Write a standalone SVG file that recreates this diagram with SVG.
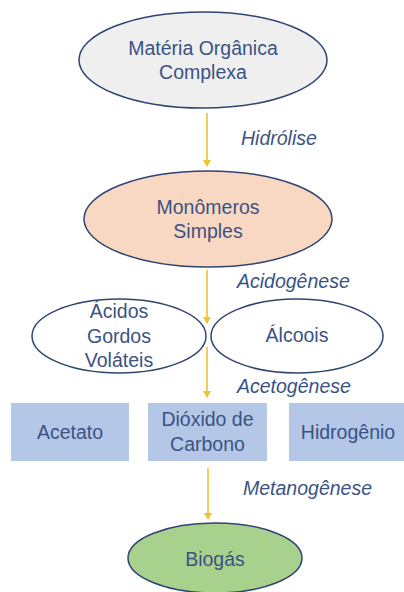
<svg xmlns="http://www.w3.org/2000/svg" width="404" height="592" viewBox="0 0 404 592">
<defs>
<marker id="ah" markerWidth="8" markerHeight="8" refX="6" refY="4" orient="auto" markerUnits="userSpaceOnUse">
<path d="M0,0 L7,4 L0,8 Z" fill="#F2C12E"/>
</marker>
<style>
.t{font-family:"Liberation Sans",Arial,sans-serif;font-size:19.5px;fill:#3A5384;text-anchor:middle}
.l{font-family:"Liberation Sans",Arial,sans-serif;font-size:19.5px;fill:#3A5384;font-style:italic}
.e{stroke:#2F4470;stroke-width:1.5}
.r{fill:#B4C7E7}
.c{stroke:#F2C12E;stroke-width:1.6;fill:none;marker-end:url(#ah)}
</style>
</defs>
<rect width="404" height="592" fill="#FFFFFF"/>
<g id="connectors">
<line class="c" x1="207" y1="113" x2="207" y2="166"/>
<line class="c" x1="207" y1="270" x2="207" y2="323"/>
<line class="c" x1="207" y1="347" x2="207" y2="397"/>
<line class="c" x1="208" y1="468" x2="208" y2="519"/>
<text class="l" x="241" y="145">Hidrólise</text>
<text class="l" x="237" y="288">Acidogênese</text>
<text class="l" x="237" y="393">Acetogênese</text>
<text class="l" x="243" y="495">Metanogênese</text>
</g>
<g id="materia">
<ellipse class="e" cx="203" cy="60" rx="124" ry="48" fill="#EFEFEF"/>
<text class="t" x="203" y="55">Matéria Orgânica</text>
<text class="t" x="203" y="79">Complexa</text>
</g>
<g id="monomeros">
<ellipse class="e" cx="208" cy="219" rx="124" ry="48" fill="#F9D8C3"/>
<text class="t" x="208" y="214">Monômeros</text>
<text class="t" x="208" y="238">Simples</text>
</g>
<g id="acidos">
<ellipse class="e" cx="119" cy="336" rx="87" ry="37" fill="#FFFFFF"/>
<text class="t" x="119" y="318">Ácidos</text>
<text class="t" x="119" y="343">Gordos</text>
<text class="t" x="119" y="367">Voláteis</text>
</g>
<g id="alcoois">
<ellipse class="e" cx="297" cy="336" rx="86" ry="37" fill="#FFFFFF"/>
<text class="t" x="297" y="342">Álcoois</text>
</g>
<g id="acetato">
<rect class="r" x="11" y="403" width="118" height="58"/>
<text class="t" x="70" y="439">Acetato</text>
</g>
<g id="dioxido">
<rect class="r" x="148" y="403" width="119" height="58"/>
<text class="t" x="207.5" y="426">Dióxido de</text>
<text class="t" x="207.5" y="451">Carbono</text>
</g>
<g id="hidrogenio">
<rect class="r" x="289" y="403" width="115" height="58"/>
<text class="t" x="348" y="439">Hidrogênio</text>
</g>
<g id="biogas">
<ellipse class="e" cx="215" cy="558" rx="87" ry="35" fill="#A9D18E"/>
<text class="t" x="215" y="566">Biogás</text>
</g>
</svg>
